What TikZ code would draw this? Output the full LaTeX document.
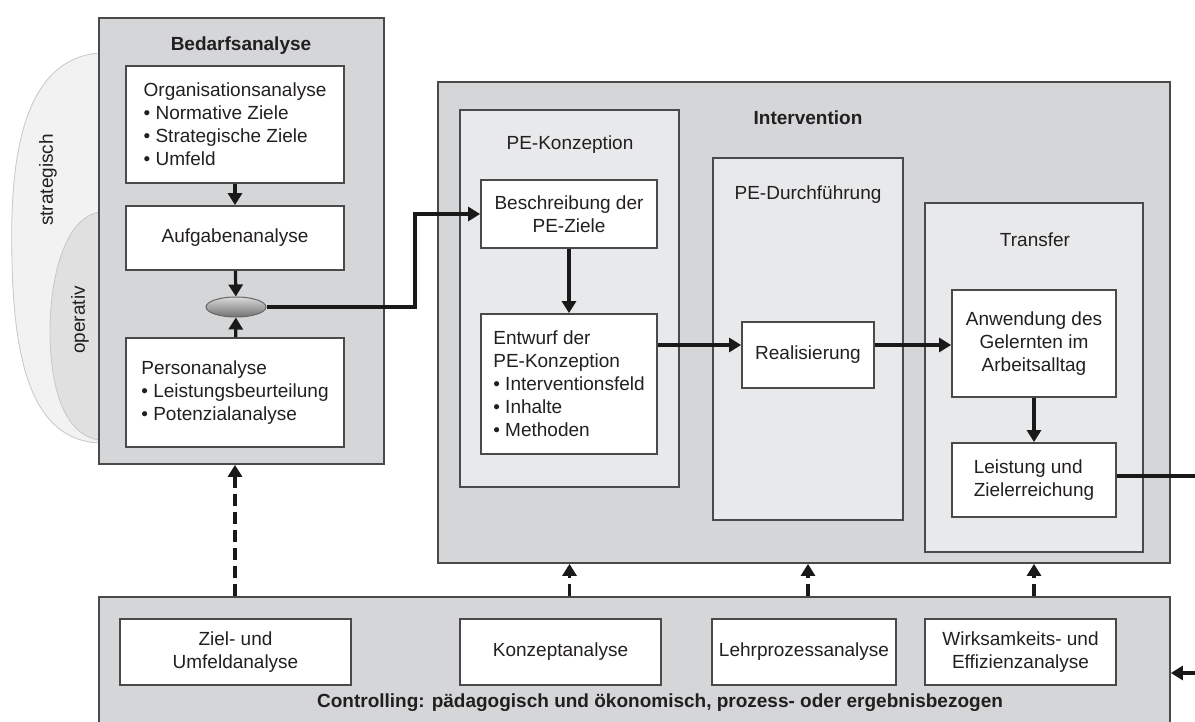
\documentclass[tikz,border=0pt]{standalone}
\usepackage{fontspec}
\setmainfont{Liberation Sans}
\usetikzlibrary{shapes.geometric,arrows.meta}
\definecolor{outerfill}{HTML}{D5D6D8}
\definecolor{innerfill}{HTML}{E8E9EA}
\definecolor{framecol}{HTML}{4A4A4A}
\definecolor{inkcol}{HTML}{231F20}
\begin{document}
\begin{tikzpicture}[x=0.5pt,y=-0.5pt,
    every node/.style={font=\fontsize{9.5pt}{11.5pt}\selectfont,text=inkcol},
    group/.style={draw=framecol,line width=0.9pt,fill=outerfill,minimum width=#1},
    panel/.style={draw=framecol,line width=0.9pt,fill=innerfill,minimum width=#1},
    box/.style={draw=framecol,line width=0.9pt,fill=white,minimum width=#1},
    title/.style={font=\fontsize{9.5pt}{11.5pt}\selectfont\bfseries},
    arr/.style={-{Triangle[length=6pt,width=7pt]},line width=1.6pt,draw=black!90},
    darr/.style={arr,dash pattern=on 6pt off 3pt}]
        \useasboundingbox (0,0) rectangle (1195,722);
        \clip (0,0) rectangle (1195,722);

        % strategisch / operativ
        \draw[draw=black!22,fill=black!5] (99,53) .. controls (15,60) and (10,180) .. (12,260)
            .. controls (14,380) and (40,440) .. (99,443);
        \draw[draw=black!22,fill=black!12] (99,212) .. controls (60,220) and (50,290) .. (50,330)
            .. controls (50,400) and (70,436) .. (99,440);
        \node[rotate=90] (strat) at (48,180) {strategisch};
        \node[rotate=90] (oper) at (80,320) {operativ};

        % Bedarfsanalyse
        \node[group=142.5pt,minimum height=223pt] (bedarf) at (241.5,241) {};
        \node[title] (bedarft) at (241,46) {Bedarfsanalyse};
        \node[box=109pt,minimum height=58.5pt,align=left] (orga) at (235,124.5)
            {Organisationsanalyse\\• Normative Ziele\\• Strategische Ziele\\• Umfeld};
        \node[box=109pt,minimum height=32pt] (aufg) at (235,238) {Aufgabenanalyse};
        \node[box=109pt,minimum height=54.5pt,align=left] (person) at (235,392.5)
            {Personanalyse\\• Leistungsbeurteilung\\• Potenzialanalyse};
        \node[ellipse,draw=black!60,line width=0.5pt,top color=black!15,bottom color=black!55,
            minimum width=30pt,minimum height=10pt,inner sep=0pt] (knot) at (236,307) {};

        \draw[arr] (orga) -- (aufg);
        \draw[arr] (aufg) -- (knot);
        \draw[arr] (person) -- (knot);

        % Intervention
        \node[group=366pt,minimum height=240.5pt] (interv) at (804,322.5) {};
        \node[title] (intervt) at (808,118) {Intervention};

        \node[panel=109.5pt,minimum height=188.5pt] (pek) at (569.5,298.5) {};
        \node (pekt) at (570,145) {PE-Konzeption};
        \node[box=88pt,minimum height=34pt,align=center] (besch) at (569,214)
            {Beschreibung der\\PE-Ziele};
        \node[box=88pt,minimum height=70pt,align=left] (entw) at (569,384)
            {Entwurf der\\PE-Konzeption\\• Interventionsfeld\\• Inhalte\\• Methoden};

        \node[panel=95pt,minimum height=181pt] (ped) at (808,339) {};
        \node (pedt) at (808,195) {PE-Durchführung};
        \node[box=66pt,minimum height=33pt] (real) at (808,355) {Realisierung};

        \node[panel=109pt,minimum height=174.5pt] (transfer) at (1034,377.5) {};
        \node (transfert) at (1035,240) {Transfer};
        \node[box=82pt,minimum height=53.5pt,align=center] (anw) at (1034,343.5)
            {Anwendung des\\Gelernten im\\Arbeitsalltag};
        \node[box=82pt,minimum height=37pt,align=left] (leist) at (1034,480)
            {Leistung und\\Zielerreichung};

        \coordinate (bend) at (415,307);
        \coordinate (flow) at (0,345);
        \draw[arr] (knot.east) -- (bend) |- (besch.west);
        \draw[arr] (besch) -- (entw);
        \draw[arr] (entw.east |- flow) -- (real.west |- flow);
        \draw[arr] (real.east |- flow) -- (anw.west |- flow);
        \draw[arr] (anw) -- (leist);

        % Controlling
        \node[group=535.5pt,minimum height=81.5pt] (ctrl) at (634.5,678.5) {};
        \node[title] (ctrlt) at (660,703)
            {Controlling: pädagogisch und ökonomisch, prozess- oder ergebnisbezogen};
        \node[box=115.5pt,minimum height=33pt,align=center] (ziel) at (235.5,652)
            {Ziel- und\\Umfeldanalyse};
        \node[box=100.5pt,minimum height=33pt] (konz) at (560.5,652) {Konzeptanalyse};
        \node[box=91pt,minimum height=33pt] (lehr) at (804,652) {Lehrprozessanalyse};
        \node[box=95.5pt,minimum height=33pt,align=center] (wirk) at (1020.5,652)
            {Wirksamkeits- und\\Effizienzanalyse};

        \draw[darr] (orga.center |- ctrl.north) -- (bedarf.south -| orga.center);
        \draw[darr] (pek.center |- ctrl.north) -- (interv.south -| pek.center);
        \draw[darr] (ped.center |- ctrl.north) -- (interv.south -| ped.center);
        \draw[darr] (transfer.center |- ctrl.north) -- (interv.south -| transfer.center);

        \coordinate (loop) at (1220,476);
        \coordinate (back) at (0,673);
        \draw[arr] (leist.east |- loop) -- (loop) |- (ctrl.east |- back);
\end{tikzpicture}
\end{document}
